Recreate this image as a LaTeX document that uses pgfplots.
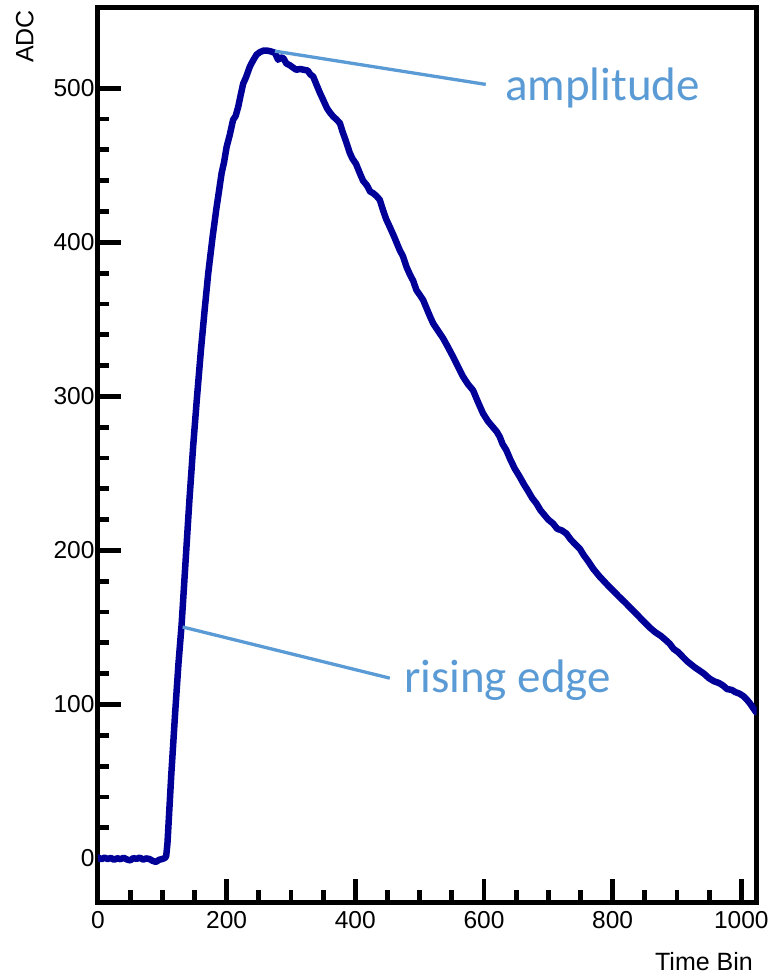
\documentclass[border=0pt]{standalone}
\usepackage{fontspec}
\setmainfont{Liberation Sans}
\newfontfamily\annofont{Carlito}
\usepackage{pgfplots}
\pgfplotsset{compat=1.18}

\definecolor{pulse}{RGB}{0,0,153}
\definecolor{anno}{RGB}{91,155,213}

% digitised ADC pulse (time bin, ADC counts)
\pgfplotstableread{
t y
0 0.8
5 -0.5
10 0.6
15 -0.3
20 0.4
25 -0.8
30 0.2
35 -0.4
40 0.5
45 -0.6
50 -1.2
55 0.3
60 -0.2
65 0.6
70 -0.7
75 0.1
80 -0.3
85 -1.5
90 -2.2
95 -0.8
100 -0.3
104 0.4
106 1.5
108 10
114 55
120 95
125 126
130 152
136 192
142 232
148 268
154 300
160 330
166 357
171.4 380
178 403
184.4 423
188 433
192.2 445
196 452
200 462
205 470
210 479.5
214 482
218 488
222 496
225.7 503
230 507
236 514
241 518
246.5 521.8
252 523.5
258 524.5
262 524.5
268 524
275 523
280 518.5
284 520
288 519.6
293 516
298 515
303 513.5
308 512
314 512.5
320 512
326 511.5
330 509
334.5 507.6
340 502
345 497
350 492.5
356 487
361 484
365.6 481.7
370 480
376 477.4
380 472
386 465
391.5 457.9
396 454
401 451
407 444.9
412 440
418 437
423 433
427.7 431.9
433 430
438 427.6
443 421
448 415
453.6 410
460 404
465 399
469 395
474 391
479.6 384
485 379
490 375
495 369
500 366
505.4 362.6
510 358
516 352
521 347.4
528 343
536.5 337.7
544 332
552 325.7
560 319
567.5 312.8
575 308
583 304
590 297
598.6 288.9
606 284
614 280
620 277
624.5 273.8
629 269
634.9 265
641 259
648 253
655.6 247.8
662 243
668 239
675 234
681.5 230.5
688 226
694 223
700 220
707.3 217.5
714 214
721 213
728 211
735 207
742 204
748.8 201.2
755 197
762 193
770 188
779.9 183
790 178.5
800.5 174
810 170
820 166
831.6 161
840 157.5
848 154
857.6 150
866 147
875 144.5
882 142
888.6 139.5
895 136
902 134
909.3 130.8
916 128
922 126
928 124
935.2 122
942 120
950 117
958 115
965 114
971.4 112.4
978 110
985 109.5
991 108
997.4 107
1003 105.5
1008 103.5
1013 101
1018 98
1023 95
}\pulsedata

\begin{document}
\begin{tikzpicture}
\path[use as bounding box] (-98pt,-73pt) rectangle (674pt,902pt);
\begin{axis}[
  scale only axis,
  width=658.7pt, height=894pt,
  xmin=0, xmax=1024,
  ymin=-28.2, ymax=552.1,
  xtick={0,200,...,1000},
  ytick={0,100,...,500},
  minor x tick num=3,
  minor y tick num=4,
  xtick pos=bottom, ytick pos=left,
  tick align=inside,
  major tick length=23pt,
  minor tick length=11.5pt,
  tick style={black, line width=4.8pt},
  axis line style={line width=5pt, line join=miter},
  /pgf/number format/assume math mode=true,
  /pgf/number format/set thousands separator={},
  tick label style={font=\fontsize{24.5}{29}\selectfont},
  xticklabel style={yshift=-6pt},
  xlabel={Time Bin},
  xlabel style={at={(rel axis cs:0.99438,-0.07685)}, anchor=base east, inner sep=0pt,
                font=\fontsize{25}{30}\selectfont},
  ylabel={ADC},
  ylabel style={at={(rel axis cs:-0.0982,0.99776)}, anchor=base east, inner sep=0pt,
                font=\fontsize{25}{30}\selectfont},
  clip mode=individual,
]
\addplot[pulse, line width=6.5pt, line join=round, line cap=round] table[x=t, y=y] {\pulsedata};

% annotations
\draw[anno, line width=3.3pt] (axis cs:275,524.1) -- (axis cs:602.8,502.5);
\node[anno, anchor=base west, inner sep=0pt, font=\annofont\fontsize{47}{56}\selectfont]
  at (axis cs:632.5,492.1) {amplitude};
\draw[anno, line width=3.3pt] (axis cs:131.6,150.3) -- (axis cs:453.6,117.1);
\node[anno, anchor=base west, inner sep=0pt, font=\annofont\fontsize{47}{56}\selectfont]
  at (axis cs:475.4,108) {rising edge};
\end{axis}
\end{tikzpicture}
\end{document}
